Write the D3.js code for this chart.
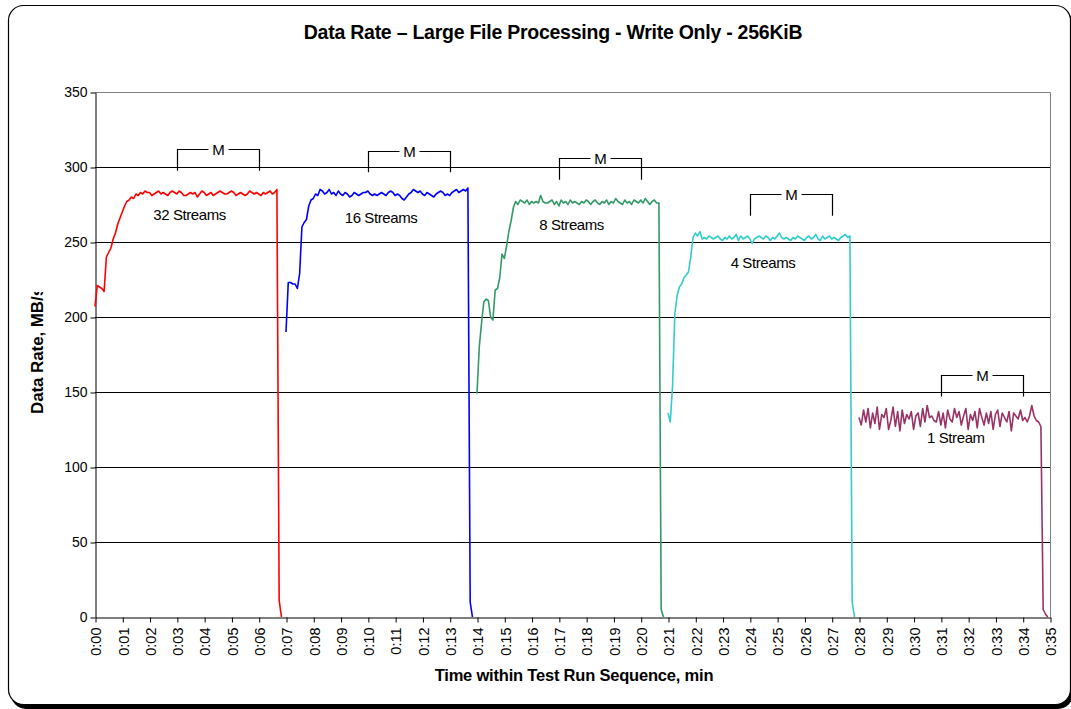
<!DOCTYPE html>
<html><head><meta charset="utf-8">
<script src="https://cdn.jsdelivr.net/npm/d3@7"></script>
<style>
body{margin:0;background:#fff}
svg{display:block}
text{font-family:"Liberation Sans",Arial,Helvetica,sans-serif}
</style>
</head><body>
<svg id="chart" width="1071" height="709"></svg>
<script>
// ---------------- DATA ----------------
const chartTitle = "Data Rate \u2013 Large File Processing - Write Only - 256KiB";
const xTitle = "Time within Test Run Sequence, min";
const yTitle = "Data Rate, MB/s";
const sampleStepSec = 5;
const seriesNames = ["32 Streams", "16 Streams", "8 Streams", "4 Streams", "1 Stream"];
const seriesColors = ["#ff0000", "#0000ff", "#339966", "#33cccc", "#993366"];
const seriesStartSec = [0, 420, 840, 1260, 1680];

const streams32 = [207,221,220,219,217,240,243,246,252,256,262,266,270,274,277,278,280,279,282,281,
283,282,284,283,283,281,282,283,284,282,
283,282,281,283,284,283,282,284,283,281,
281,282,283,282,283,280,282,284,283,281,
282,283,281,282,283,284,283,282,282,283,
284,283,281,282,283,282,281,282,284,283,
282,283,282,281,283,282,283,284,282,283,
285,11,0];

const streams16 = [190,223,223,222,222,219,229,260,263,265,274,278,279,282,281,285,
284,282,283,285,282,283,281,284,282,281,
283,282,280,281,283,282,281,282,283,283,
284,282,281,282,281,282,283,282,281,283,
284,283,281,282,281,279,278,280,282,283,
285,284,283,284,282,281,283,282,281,280,
282,283,284,283,281,282,281,283,284,285,
283,284,285,284,286,10,0];

const streams8 = [149,180,196,210,212,211,200,198,218,219,226,242,239,247,257,264,273,277,275,278,
277,276,278,275,277,276,277,276,281,277,
276,276,277,278,275,277,274,278,276,277,
275,278,276,277,276,275,277,276,278,277,
275,277,278,276,275,277,276,278,275,277,
276,279,277,276,275,278,276,277,275,278,
277,276,278,276,279,277,275,277,278,276,
276,5,0];

const streams4 = [136,130,154,202,214,220,222,226,228,230,240,253,256,
254,257,252,253,252,254,253,252,253,254,
252,251,253,252,254,252,253,255,251,254,
252,253,254,252,249,252,253,254,253,252,
254,253,251,253,252,254,256,253,252,253,
252,251,253,252,254,253,252,251,253,254,
252,253,255,252,251,254,252,253,254,252,
253,252,251,253,254,255,253,254,10,0];

const streams1 = [133,128,138,130,139,126,136,129,140,125,
135,133,139,125,131,140,127,137,124,138,
129,135,132,137,125,134,136,127,139,130,
141,133,134,131,130,137,128,136,126,138,
132,130,139,133,137,128,134,139,125,135,
131,137,126,139,133,128,136,129,137,125,
135,138,127,136,133,130,137,124,136,134,
132,138,131,133,130,134,141,134,131,130,
127,5,2,0];

const seriesValues = [streams32, streams16, streams8, streams4, streams1];

const yTickValues = [0, 50, 100, 150, 200, 250, 300, 350];
const xTickLabels = ["0:00","0:01","0:02","0:03","0:04","0:05","0:06","0:07","0:08","0:09",
"0:10","0:11","0:12","0:13","0:14","0:15","0:16","0:17","0:18","0:19","0:20","0:21","0:22",
"0:23","0:24","0:25","0:26","0:27","0:28","0:29","0:30","0:31","0:32","0:33","0:34","0:35"];

// annotations: series label positions (seconds, MB/s)
const labelTimeSec = [208, 629, 1048, 1469, 1893];
const labelValue = [264.7, 262.5, 258, 232.5, 115.8];
// "M" brackets: start minute, end minute, bracket level (MB/s)
const bracketStartMin = [3, 10, 17, 24, 31];
const bracketEndMin = [6, 13, 20, 27, 34];
const bracketLevel = [312, 311, 306, 282, 161.5];
const bracketDepth = 14.5;

// ---------------- LAYOUT ----------------
const plot = {left: 95, right: 1050, top: 92, bottom: 617};
const svg = d3.select("#chart");

const x = d3.scaleLinear().domain([0, 2100]).range([plot.left, plot.right]);
const y = d3.scaleLinear().domain([0, 350]).range([plot.bottom, plot.top]);

// frame with shadow
svg.append("rect").attr("x", 11).attr("y", 9).attr("width", 1062).attr("height", 700)
  .attr("rx", 15).attr("fill", "#000");
svg.append("rect").attr("x", 8.5).attr("y", 5.5).attr("width", 1062).attr("height", 699)
  .attr("rx", 15).attr("fill", "#fff").attr("stroke", "#000").attr("stroke-width", 1.2);

// title
svg.append("text").attr("x", 553).attr("y", 39).attr("text-anchor", "middle")
  .attr("font-size", 19.5).attr("font-weight", "bold").attr("letter-spacing", -0.25)
  .text(chartTitle);

// gridlines
svg.append("g").selectAll("line").data(yTickValues.filter(v => v > 0 && v < 350)).join("line")
  .attr("x1", plot.left).attr("x2", plot.right)
  .attr("y1", d => Math.round(y(d)) + 0.5).attr("y2", d => Math.round(y(d)) + 0.5)
  .attr("stroke", "#000").attr("stroke-width", 1);

// plot border (top/right)
svg.append("path")
  .attr("d", `M${plot.left},${plot.top + 0.5}H${plot.right + 0.5}V${plot.bottom}`)
  .attr("fill", "none").attr("stroke", "#808080").attr("stroke-width", 1);

// y axis
const yAxis = svg.append("g").attr("transform", `translate(${plot.left + 0.5},0.5)`)
  .call(d3.axisLeft(y).tickValues(yTickValues).tickSize(5).tickPadding(3).tickSizeOuter(0));
yAxis.select(".domain").attr("stroke", "#000");
yAxis.selectAll(".tick line").attr("stroke", "#000");
yAxis.selectAll("text").attr("font-size", 14).attr("font-family", "Liberation Sans, Arial, sans-serif")
  .attr("fill", "#000");

// x axis
const xAxis = svg.append("g").attr("transform", `translate(0.5,${plot.bottom + 0.5})`)
  .call(d3.axisBottom(x).tickValues(xTickLabels.map((_, i) => i * 60))
    .tickFormat((d, i) => xTickLabels[i]).tickSize(5).tickSizeOuter(0));
xAxis.select(".domain").attr("stroke", "#000");
xAxis.selectAll(".tick line").attr("stroke", "#000");
xAxis.selectAll("text").attr("font-size", 14.5).attr("font-family", "Liberation Sans, Arial, sans-serif")
  .attr("fill", "#000")
  .attr("transform", "rotate(-90)").attr("text-anchor", "end")
  .attr("x", -10).attr("y", 0).attr("dy", "0.36em");

// axis titles
svg.append("text").attr("x", 574).attr("y", 681).attr("text-anchor", "middle")
  .attr("font-size", 16.5).attr("font-weight", "bold").attr("letter-spacing", -0.2)
  .text(xTitle);

svg.append("clipPath").attr("id", "ytclip").append("rect")
  .attr("x", 0).attr("y", 292).attr("width", 90).attr("height", 200);
svg.append("g").attr("clip-path", "url(#ytclip)")
  .append("text").attr("transform", "translate(43,414) rotate(-90)")
  .attr("text-anchor", "start").attr("font-size", 17).attr("font-weight", "bold")
  .attr("letter-spacing", -0.1)
  .text(yTitle);

// series lines
const line = d3.line().x(d => x(d.t)).y(d => y(d.v));
seriesValues.forEach((vals, si) => {
  const pts = vals.map((v, i) => ({t: seriesStartSec[si] + i * sampleStepSec, v}));
  svg.append("path").datum(pts).attr("d", line)
    .attr("fill", "none").attr("stroke", seriesColors[si]).attr("stroke-width", 1.6)
    .attr("stroke-linejoin", "round");
});

// series labels
svg.append("g").selectAll("text").data(seriesNames).join("text")
  .attr("x", (d, i) => x(labelTimeSec[i])).attr("y", (d, i) => y(labelValue[i]))
  .attr("text-anchor", "middle").attr("font-size", 15).attr("letter-spacing", -0.4)
  .attr("fill", "#000")
  .text(d => d);

// M brackets
bracketStartMin.forEach((sm, i) => {
  const x1 = Math.round(x(sm * 60)) + 0.5, x2 = Math.round(x(bracketEndMin[i] * 60)) + 0.5;
  const yt = Math.round(y(bracketLevel[i])) + 0.5, yb = y(bracketLevel[i] - bracketDepth);
  const xc = (x1 + x2) / 2;
  const g = svg.append("g").attr("stroke", "#000").attr("stroke-width", 1.2).attr("fill", "none");
  g.append("path").attr("d", `M${x1},${yb}V${yt}H${xc - 10}`);
  g.append("path").attr("d", `M${xc + 10},${yt}H${x2}V${yb}`);
  svg.append("text").attr("x", xc).attr("y", yt).attr("dy", "0.36em")
    .attr("text-anchor", "middle").attr("font-size", 15).attr("fill", "#000").text("M");
});
</script>
</body></html>
